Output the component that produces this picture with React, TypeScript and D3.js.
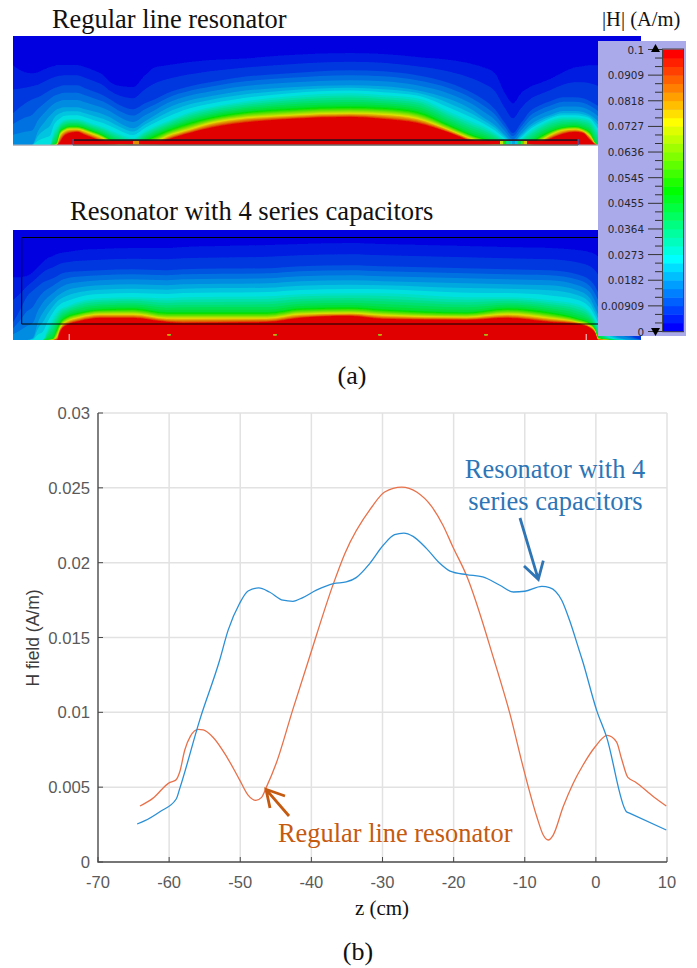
import React from "react";
import * as d3 from "d3";

// ---------- line chart data (z in cm, H in A/m) ----------
const regularZ = [-64.1,-62.3,-59.9,-59.07,-58.5,-57.8,-57,-55.9,-55.2,-53.8,-51.9,-50.07,-48.9,-47.8,-47,-46.4,-44.9,-42.6,-40.4,-36.9,-35.3,-31.5,-29.7,-27.3,-25.2,-23.1,-21.5,-20.1,-18.2,-14.3,-12.1,-10,-8.3,-7.4,-6.7,-6,-4.6,-3.2,-1.8,-0.1,1.6,2.9,3.6,4.5,5.5,8.1,9.9];
const regularH = [.00374,.00425,.00532,.00547,.00603,.00748,.00841,.00886,.00883,.00832,.00703,.00547,.00447,.00412,.00432,.00492,.00665,.0102,.01348,.0186,.0206,.02372,.02472,.02505,.02472,.02376,.0225,.02105,.01916,.01348,.00993,.00592,.00302,.0018,.00147,.0018,.00369,.00525,.00648,.0077,.00846,.00803,.00692,.00565,.00536,.00436,.00374];
const capZ = [-64.5,-63.4,-61.3,-59,-58.5,-55.7,-52.9,-51.7,-50.1,-48.9,-47.4,-45.9,-44,-42.6,-41.2,-39.3,-36.9,-35.1,-33.7,-31.8,-29.9,-28.3,-27,-25.7,-23.8,-21.9,-20.5,-18.2,-15.9,-13.5,-11.6,-10,-7.6,-6.5,-4.8,-3.7,-2.35,-1.9,0.1,1.5,4.3,4.8,9.9];
const capH = [.00254,.00276,.00336,.00421,.00492,.00948,.01348,.01549,.01727,.01811,.01831,.01804,.01749,.01742,.01767,.01816,.0186,.01871,.019,.01994,.02116,.02187,.02198,.02176,.02094,.01994,.01944,.0192,.01905,.01849,.01804,.01809,.01842,.01834,.01749,.01615,.01415,.01348,.01015,.00836,.00336,.00325,.00214];
const xTicks = [-70,-60,-50,-40,-30,-20,-10,0,10];
const yTicks = [0,0.005,0.01,0.015,0.02,0.025,0.03];

// ---------- colour bar ----------
const barLabels = ["0","0.00909","0.0182","0.0273","0.0364","0.0455","0.0545","0.0636","0.0727","0.0818","0.0909","0.1"];
const bandCount = 33;
const rampStops = [0,0.25,0.5,0.75,1];
const rampColors = ["#0000ff","#00ffff","#00ff00","#ffff00","#ff0000"];

// ---------- field isolines: height above the panel floor at each column ----------
const isoValues = [0.003,0.009,0.018,0.027,0.045,0.0727,0.095];
const topColumns = [
  [13,80,32,0,0,0,0,0],[25,73,42,0,0,0,0,0],[32,72,46,0,0,0,0,0],[38,73,48,14,0,0,0,0],[45,76,52,24,0,0,0,0],
  [50,78,55,30,0,0,0,0],[54,79,57,34,14,0,0,0],[57,80,58,36,19,4,0,0],[60,80,59,37,22,14,10,3],[64,80,60,38,25,17,14,9],
  [70,80,60,38,26,19,16,12],[77,80,60,38,26,19,16,13],[85,78,57,36,24,17,14,10],[93,75,54,34,21,14,11,7],[103,70,50,31,18,10,7,3],
  [110,63,46,28,15,6,3,0],[120,59,40,22,11,2,0,0],[133,58,36,17,7,0,0,0],[145,70,42,24,14,5,1,0],[155,78,46,30,19,10,3,0],
  [167,80,52,37,24,15,9,5],[190,83,59,45,33,23,16,12],[210,85,63,49,38,28,22,17],[233,86,67,53,42,32,26,21],[290,90,72,58,49,37,30,26],[350,92,75,60,52,39,32,28],
  [383,91,74,59,50,38,31,26],[417,88,70,55,47,34,27,22],[450,85,62,46,33,20,15,12],[473,81,52,35,23,10,6,3],[483,78,46,28,19,7,3,0],
  [495,72,36,20,12,3,0,0],[505,52,22,10,5,0,0,0],[513,42,12,3,1,0,0,0],[521,52,22,11,6,0,0,0],[530,58,34,20,14,2,0,0],
  [540,62,40,26,20,9,4,1],[550,66,44,30,25,14,10,6],[563,73,48,34,28,18,15,11],[575,78,48,34,28,19,16,13],[583,79,47,33,27,17,14,12],
  [590,80,44,30,25,13,9,5],[597,80,40,25,15,0,0,0],[610,80,34,12,0,0,0,0],[625,80,30,0,0,0,0,0],[641,80,28,0,0,0,0,0],
];
const bottomColumns = [
  [13,63,18,0,0,0,0,0],[20,63,30,0,0,0,0,0],[27,64,44,0,0,0,0,0],[33,68,50,2,0,0,0,0],[38,73,54,18,0,0,0,0],[43,78,58,28,0,0,0,0],
  [48,82,60,35,12,0,0,0],[53,84,62,40,22,2,0,0],[57,86,64,44,28,12,4,0],[60,87,66,46,31,18,12,8],[67,88,68,50,34,24,19,15],
  [80,90,69,53,39,28,23,19],[100,91,70,55,42,31,26,22],[133,92,71,56,43,32,26,22],[167,92,70,55,42,28,22,18],[183,93,71,56,43,28,22,17],
  [267,95,72,57,44,28,22,18],[300,96,74,59,46,32,26,22],[350,97,75,60,47,33,27,24],[383,96,74,59,47,31,25,21],[467,94,72,57,43,28,23,20],
  [507,93,71,56,43,32,26,22],[550,92,70,55,40,28,22,18],[577,90,66,50,36,22,18,16],[590,88,60,42,28,17,14,12],[595,86,54,32,20,11,9,7],[598,84,48,26,14,3,1,0],
  [610,70,28,8,2,0,0,0],[620,50,15,2,0,0,0,0],[632,30,4,0,0,0,0,0],[641,20,0,0,0,0,0,0],
];
const stripX = [133,500,503,506,509,512,515,518,521,524];
const stripV = [0.082,0.07,0.052,0.034,0.024,0.02,0.024,0.04,0.058,0.078];
const capMarkers = [169,275,380,486];

const W = 697, H = 968;
const ramp = d3.scaleLinear<string>().domain(rampStops).range(rampColors).interpolate(d3.interpolateRgb);
const bandColor = (i: number) => ramp(i / (bandCount - 1));
const dim = (c: string) => { const r = d3.rgb(c); return d3.rgb(r.r * 0.88, r.g * 0.88, r.b * 0.88).formatHex(); };
const valueBand = (v: number) => Math.min(bandCount - 1, Math.floor((v / 0.1) * bandCount));

function Field({ id, columns, x0, x1, y0, y1 }: { id: string; columns: number[][]; x0: number; x1: number; y0: number; y1: number }) {
  const layers = d3.range(1, bandCount).map((i) => {
    const v = (i / bandCount) * 0.1;
    const hs = columns.map((c) => d3.scaleLinear().domain(isoValues).range(c.slice(1)).clamp(true)(v) as number);
    const area = d3.area<number>().x((_, k) => columns[k][0]).y0(y1 + 4).y1((h) => y1 - h).curve(d3.curveMonotoneX);
    return { i, d: area(hs) as string };
  });
  return (
    <g clipPath={`url(#clip-${id})`}>
      <defs>
        <clipPath id={`clip-${id}`}><rect x={x0} y={y0} width={x1 - x0} height={y1 - y0} /></clipPath>
      </defs>
      <g filter="url(#soft)">
        <rect x={x0 - 5} y={y0 - 5} width={x1 - x0 + 10} height={y1 - y0 + 10} fill={dim(bandColor(0))} />
        {layers.map((l) => <path key={l.i} d={l.d} fill={dim(bandColor(l.i))} />)}
      </g>
    </g>
  );
}

export default function App() {
  const x = d3.scaleLinear().domain([-70, 10]).range([98, 667]);
  const y = d3.scaleLinear().domain([0, 0.03]).range([862, 413]);
  const line = d3.line<[number, number]>().x((d) => x(d[0])).y((d) => y(d[1])).curve(d3.curveMonotoneX);
  const regularPath = line(regularZ.map((z, i) => [z, regularH[i]]) as [number, number][]) as string;
  const capPath = line(capZ.map((z, i) => [z, capH[i]]) as [number, number][]) as string;
  const barY = d3.scaleLinear().domain([0, 0.1]).range([331.5, 49.5]);
  const serif = "'Liberation Serif', serif";
  const sans = "'Liberation Sans', sans-serif";
  const grid = "#e2e2e2", axis = "#4a4a4a", tickText = "#5a5a5a";
  const blue = "#2e75b6", orange = "#c55a11";

  return (
    <svg width={W} height={H} viewBox={`0 0 ${W} ${H}`} style={{ position: "absolute", left: 0, top: 0, background: "#fff" }}>
      <defs>
        <filter id="soft" x="-2%" y="-10%" width="104%" height="120%"><feGaussianBlur stdDeviation="0.5" /></filter>
      </defs>

      {/* top field */}
      <Field id="a" columns={topColumns} x0={13} x1={641} y0={36} y1={145} />
      <rect x={73} y={140.5} width={505} height={4} fill="#e00000" />
      {stripX.map((sx, i) => <rect key={i} x={sx} y={141} width={i === 0 ? 6 : 3} height={3.5} fill={dim(bandColor(valueBand(stripV[i])))} />)}
      <rect x={73} y={139.3} width={505} height={1.5} fill="#1a1020" />
      <rect x={13} y={144.5} width={60} height={1.3} fill="#b4b0b8" />
      <rect x={73} y={144.3} width={505} height={1.5} fill="#6e6a6a" />
      <rect x={578} y={144.5} width={20} height={1.3} fill="#b4b0b8" />
      <rect x={72.5} y={139} width={1.3} height={6} fill="#3a5aa8" />
      <rect x={577.5} y={139} width={1.3} height={6} fill="#3a5aa8" />

      {/* bottom field */}
      <Field id="b" columns={bottomColumns} x0={13} x1={641} y0={230} y1={340} />
      {capMarkers.map((m) => (
        <g key={m}>
          <rect x={m - 2} y={334} width={4} height={1.6} fill="#7fc020" />
          <rect x={m - 1} y={334} width={2} height={1.6} fill="#e0a000" />
        </g>
      ))}
      <rect x={68.7} y={334} width={1} height={6} fill="#f4e0e0" />
      <rect x={585.7} y={334} width={1} height={6} fill="#f4e0e0" />
      <path d="M598,237.5H21.7V324H598" fill="none" stroke="#000" strokeWidth={1} />

      {/* colour bar */}
      <rect x={598} y={41} width={88} height={295} fill="#aaaaea" />
      {d3.range(bandCount).map((i) => (
        <rect key={i} x={662.5} y={barY(((i + 1) / bandCount) * 0.1)} width={21} height={barY(0) - barY(0.1 / bandCount) + 0.4} fill={bandColor(i)} />
      ))}
      <rect x={662.5} y={49} width={21} height={282.7} fill="none" stroke="#444" strokeWidth={1} />
      {d3.range(bandCount + 1).map((i) => {
        const major = i % 3 === 0;
        const ty = barY((i / bandCount) * 0.1);
        return <line key={i} x1={major ? 648 : 655} x2={662} y1={ty} y2={ty} stroke="#333" strokeWidth={1} />;
      })}
      {barLabels.map((s, i) => (
        <text key={s} x={644} y={barY((i / 11) * 0.1) + 4} textAnchor="end" fontFamily="'DejaVu Sans', sans-serif" fontSize={10.4} fill="#26262e">{s}</text>
      ))}
      <path d="M655.5,44 L660,52 L651,52 Z" fill="#000" />
      <path d="M655.5,336 L660,328 L651,328 Z" fill="#000" />

      {/* titles */}
      <text x={52} y={28} fontFamily={serif} fontSize={26.4} fill="#111">Regular line resonator</text>
      <text x={70} y={220} fontFamily={serif} fontSize={26.6} fill="#111">Resonator with 4 series capacitors</text>
      <text x={602} y={26} fontFamily={serif} fontSize={20.5} fill="#111">|H| (A/m)</text>
      <text x={352} y={384} textAnchor="middle" fontFamily={serif} fontSize={26} fill="#111">(a)</text>

      {/* line chart */}
      {xTicks.slice(1).map((t) => <line key={t} x1={x(t)} x2={x(t)} y1={413} y2={862} stroke={grid} strokeWidth={1.5} />)}
      {yTicks.slice(1).map((t) => <line key={t} x1={98} x2={667} y1={y(t)} y2={y(t)} stroke={grid} strokeWidth={1.5} />)}
      <path d="M98,413V862H667" fill="none" stroke={axis} strokeWidth={1.4} />
      {xTicks.map((t) => (
        <g key={t}>
          <line x1={x(t)} x2={x(t)} y1={862} y2={857} stroke={axis} strokeWidth={1} />
          <text x={x(t)} y={888} textAnchor="middle" fontFamily={sans} fontSize={16.5} fill={tickText}>{t}</text>
        </g>
      ))}
      {yTicks.map((t) => (
        <g key={t}>
          <line x1={98} x2={103} y1={y(t)} y2={y(t)} stroke={axis} strokeWidth={1} />
          <text x={90} y={y(t) + 6} textAnchor="end" fontFamily={sans} fontSize={16.7} fill={tickText}>{t}</text>
        </g>
      ))}
      <text transform="translate(39,638) rotate(-90)" textAnchor="middle" fontFamily={sans} fontSize={17.5} fill="#3c3c3c">H field (A/m)</text>
      <text x={382} y={915} textAnchor="middle" fontFamily={serif} fontSize={21} fill="#111">z (cm)</text>
      <text x={358} y={960} textAnchor="middle" fontFamily={serif} fontSize={26} fill="#111">(b)</text>

      <path d={regularPath} fill="none" stroke="#e8714a" strokeWidth={1.3} />
      <path d={capPath} fill="none" stroke="#2b8fd6" strokeWidth={1.3} />

      {/* annotations */}
      <text x={555} y={478} textAnchor="middle" fontFamily={serif} fontSize={26.4} fill={blue}>Resonator with 4</text>
      <text x={555.5} y={510} textAnchor="middle" fontFamily={serif} fontSize={26.5} fill={blue}>series capacitors</text>
      <path d="M520,518L538.3,579.3M524,566L538.3,579.3L543.3,560.7" fill="none" stroke={blue} strokeWidth={2.8} />
      <text x={278} y={842} fontFamily={serif} fontSize={26.4} fill={orange}>Regular line resonator</text>
      <path d="M289,816L266,789.3M285,796L266,789.3L270,808" fill="none" stroke={orange} strokeWidth={2.8} />
    </svg>
  );
}
